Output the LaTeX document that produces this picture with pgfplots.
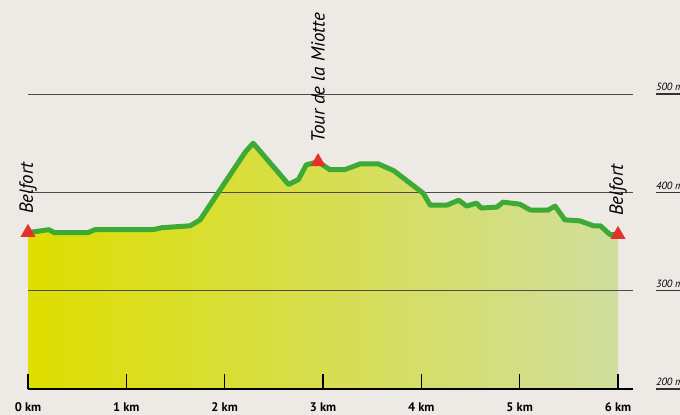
\documentclass[border=0pt]{standalone}
\usepackage{fontspec}
\setmainfont{PT Sans}
\usepackage{pgfplots}
\usepackage{pgfplotstable}
\pgfplotsset{compat=1.18}
\definecolor{bgcol}{HTML}{EDE9E4}
\definecolor{lineGreen}{HTML}{3CAA34}
\definecolor{markRed}{HTML}{E5312B}
\definecolor{fillL}{HTML}{DEDE00}
\definecolor{fillM}{HTML}{D8DE5A}
\definecolor{fillR}{HTML}{D0DE9E}
\pgfplotstableread{
km   alt
0.00 359
0.21 362
0.27 359
0.61 359
0.68 362
1.27 362
1.36 364
1.65 366
1.75 372
2.21 441
2.29 450
2.65 408
2.75 413
2.83 428
2.95 431
3.07 423
3.22 423
3.38 429
3.56 429
3.72 422
4.02 399
4.09 387
4.26 387
4.38 392
4.46 386
4.56 389
4.61 384
4.77 385
4.83 390
5.00 388
5.11 382
5.29 382
5.36 386
5.46 372
5.61 371
5.75 366
5.82 366
5.92 357
6.00 357
}\profile
\begin{document}
\begin{tikzpicture}
\fill[bgcol] (-28bp,-26bp) rectangle (652bp,389bp);
\begin{axis}[
  at={(0,0)}, anchor=south west,
  scale only axis, width=605bp, height=295bp,
  xmin=0, xmax=6.1526, ymin=200, ymax=500,
  clip=false,
  axis on top,
  axis y line=none,
  axis x line*=bottom,
  x axis line style={line width=1.2bp, black},
  xtick={0,1,2,3,4,5,6},
  xticklabels={0 km,1 km,2 km,3 km,4 km,5 km,6 km},
  tick align=inside,
  major tick length=15bp,
  xtick style={line width=1.2bp, black},
  xticklabel style={font=\bfseries\fontsize{12.5}{14}\selectfont, yshift=-10bp},
]
\addplot[draw=none, left color=fillL, middle color=fillM, right color=fillR] table[x=km, y=alt] {\profile} \closedcycle;
\pgfplotsinvokeforeach{300,400,500}{
  \draw[line width=0.9bp, black!70] (axis cs:0,#1) -- (axis cs:6.1526,#1);
}
\addplot[color=lineGreen, line width=5bp, line join=round, line cap=round] table[x=km, y=alt] {\profile};
\addplot[only marks, mark=triangle*, mark size=8.3bp, color=markRed] coordinates {(0,359) (2.95,431) (6,357)};
\node[rotate=90, anchor=west, inner sep=0pt, font=\itshape\fontsize{19}{21}\selectfont] at (axis cs:0,378) {Belfort};
\node[rotate=90, anchor=west, inner sep=0pt, font=\itshape\fontsize{19}{21}\selectfont] at (axis cs:2.95,450) {Tour de la Miotte};
\node[rotate=90, anchor=west, inner sep=0pt, font=\itshape\fontsize{19}{21}\selectfont] at (axis cs:6,376) {Belfort};
\pgfplotsinvokeforeach{200,300,400,500}{
  \draw[line width=1.2bp, black!80] (axis cs:6.39,#1) -- (axis cs:6.8,#1);
  \node[anchor=south west, inner sep=0pt, yshift=3bp, font=\itshape\fontsize{10.5}{12}\selectfont] at (axis cs:6.385,#1) {#1 m};
}
\end{axis}
\pgfresetboundingbox
\path[use as bounding box] (-28bp,-26bp) rectangle (652bp,389bp);
\end{tikzpicture}
\end{document}
